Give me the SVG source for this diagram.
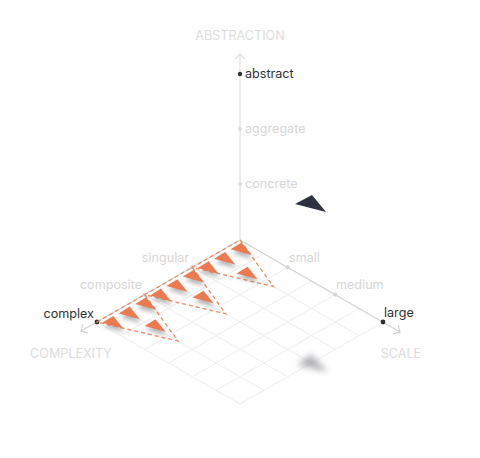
<svg xmlns="http://www.w3.org/2000/svg" width="480" height="458" viewBox="0 0 480 458">
<style>
text{font-family:Inter,"Liberation Sans",sans-serif;font-size:12.6px}
.title{fill:#dcdcdc}
.dark{fill:#2f2f35}
.light{fill:#d6d6d6}
.grid line{stroke:#ececec;stroke-width:1}
.axis{stroke:#d2d2d2;stroke-width:1.2;fill:none}
.vaxis{stroke:#e4e4e4;stroke-width:1.4;fill:none}
.dash{stroke:#ee8a62;stroke-width:1.3;stroke-dasharray:4 3;fill:none}
.tri{fill:#ea7a4f}
</style>
<defs>
<marker id="chev" markerWidth="14" markerHeight="14" refX="7" refY="7" orient="auto" markerUnits="userSpaceOnUse">
<path d="M2,2 L7,7 L2,12" fill="none" stroke="#d2d2d2" stroke-width="1.2"/>
</marker>
<marker id="chevv" markerWidth="14" markerHeight="14" refX="7" refY="7" orient="auto" markerUnits="userSpaceOnUse">
<path d="M2,2 L7,7 L2,12" fill="none" stroke="#e0e0e0" stroke-width="1.2"/>
</marker>
<filter id="sh" x="-50%" y="-50%" width="200%" height="200%">
<feDropShadow dx="1.5" dy="4" stdDeviation="2" flood-color="#777" flood-opacity="0.55"/>
</filter>
<filter id="blur" x="-50%" y="-50%" width="200%" height="200%">
<feGaussianBlur stdDeviation="3.2"/>
</filter>
<path id="t" d="M-10.5,0.5 L0.5,-6.3 L10.5,6.3 Z"/>
</defs>

<g id="grid" class="grid">
<line x1="216.17" y1="253.67" x2="359.17" y2="335.67"/>
<line x1="192.33" y1="267.33" x2="335.33" y2="349.33"/>
<line x1="168.5" y1="281" x2="311.5" y2="363"/>
<line x1="144.67" y1="294.67" x2="287.67" y2="376.67"/>
<line x1="120.83" y1="308.33" x2="263.83" y2="390.33"/>
<line x1="97" y1="322" x2="240" y2="404"/>
<line x1="263.83" y1="253.67" x2="120.83" y2="335.67"/>
<line x1="287.67" y1="267.33" x2="144.67" y2="349.33"/>
<line x1="311.5" y1="281" x2="168.5" y2="363"/>
<line x1="335.33" y1="294.67" x2="192.33" y2="376.67"/>
<line x1="359.17" y1="308.33" x2="216.17" y2="390.33"/>
<line x1="383" y1="322" x2="240" y2="404"/>
</g>

<g id="connectors">
<path class="vaxis" d="M240,240 L240,54" marker-end="url(#chevv)"/>
<path class="axis" d="M240,240 L400,332" marker-end="url(#chev)"/>
<path class="axis" d="M240,240 L81,331" marker-end="url(#chev)"/>
</g>

<g id="shadow-dark">
<path d="M297,365 L311,354 L328,372 Z" fill="#9a9aa0" opacity="0.75" filter="url(#blur)"/>
</g>

<g id="ticks">
<circle cx="240" cy="74" r="2.2" fill="#2f2f35"/>
<circle cx="240" cy="129" r="2" fill="#dcdcdc"/>
<circle cx="240" cy="184" r="2" fill="#dcdcdc"/>
<circle cx="287.7" cy="267.3" r="2" fill="#d4d4d4"/>
<circle cx="335.3" cy="294.7" r="2" fill="#d4d4d4"/>
<circle cx="383" cy="322" r="2.4" fill="#2f2f35"/>
<circle cx="192.3" cy="267.3" r="2" fill="#d4d4d4"/>
<circle cx="144.7" cy="294.7" r="2" fill="#d4d4d4"/>
<circle cx="97" cy="322" r="2.4" fill="#2f2f35"/>
</g>

<g id="dashed-triangles">
<path class="dash" d="M240,240 L273.4,286.5 L192.3,267.3 Z"/>
<path class="dash" d="M192.3,267.3 L225.7,313.8 L144.7,294.7 Z"/>
<path class="dash" d="M144.7,294.7 L178,341 L97,322 Z"/>
</g>

<g id="orange-triangles" class="tri" filter="url(#sh)">
<use href="#t" x="241" y="248.8"/>
<use href="#t" x="224.6" y="258.2"/>
<use href="#t" x="208.1" y="267.6"/>
<use href="#t" x="193.4" y="276.1"/>
<use href="#t" x="176.9" y="285.5"/>
<use href="#t" x="160.5" y="294.9"/>
<use href="#t" x="145.6" y="303.5"/>
<use href="#t" x="129.2" y="312.9"/>
<use href="#t" x="112.7" y="322.3"/>
<use href="#t" x="247" y="273"/>
<use href="#t" x="203" y="297"/>
<use href="#t" x="155" y="325.5"/>
</g>

<g id="dark-triangle">
<path d="M295,204 L312,195 L326,212 Z" fill="#2e313f"/>
</g>

<g id="labels">
<text class="title" x="240" y="40" text-anchor="middle">ABSTRACTION</text>
<text class="dark" x="245" y="78">abstract</text>
<text class="light" x="245" y="133">aggregate</text>
<text class="light" x="245" y="188">concrete</text>
<text class="light" x="289" y="262">small</text>
<text class="light" x="336" y="289">medium</text>
<text class="dark" x="384" y="317">large</text>
<text class="light" x="189" y="262" text-anchor="end">singular</text>
<text class="light" x="142" y="289" text-anchor="end">composite</text>
<text class="dark" x="94" y="318" text-anchor="end">complex</text>
<text class="title" x="71" y="358" text-anchor="middle">COMPLEXITY</text>
<text class="title" x="401" y="358" text-anchor="middle">SCALE</text>
</g>
</svg>
